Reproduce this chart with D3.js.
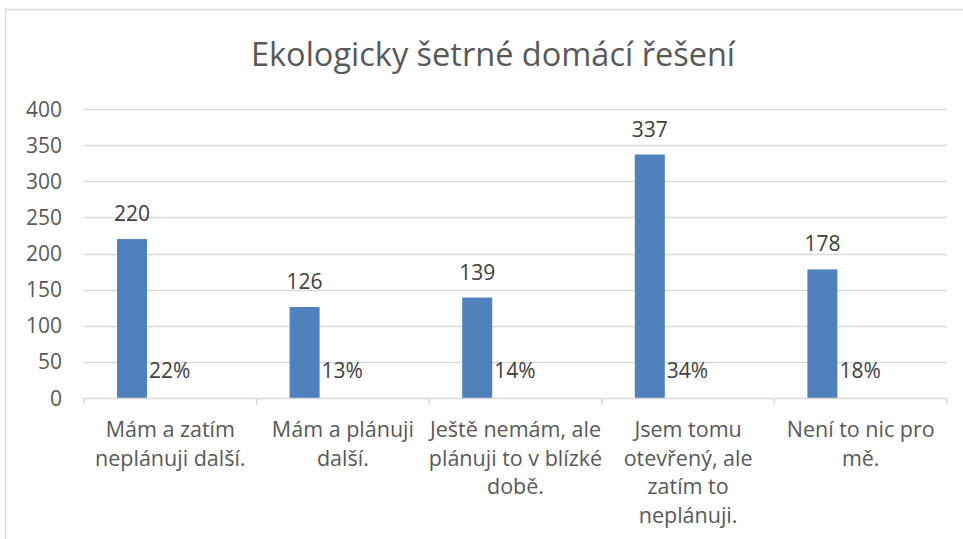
<!DOCTYPE html>
<html>
<head>
<meta charset="utf-8">
<script src="https://cdn.jsdelivr.net/npm/d3@7"></script>
<style>
  body { margin: 0; background: #fff; }
  svg { display: block; font-family: "Open Sans", sans-serif; }
</style>
</head>
<body>
<svg id="chart" width="963" height="539"></svg>
<script>
// data
const categories = [
  ['Mám a zatím', 'neplánuji další.'],
  ['Mám a plánuji', 'další.'],
  ['Ještě nemám, ale', 'plánuji to v blízké', 'době.'],
  ['Jsem tomu', 'otevřený, ale', 'zatím to', 'neplánuji.'],
  ['Není to nic pro', 'mě.']
]
const counts = [220, 126, 139, 337, 178]
const shares = ['22%', '13%', '14%', '34%', '18%']
const yTicks = [0, 50, 100, 150, 200, 250, 300, 350, 400]

const svg = d3.select('#chart')
const grey = '#595959'

// outer chart border (right/bottom fall off the picture)
svg.append('rect')
  .attr('x', 5.5).attr('y', 9.5).attr('width', 1000).attr('height', 600)
  .attr('fill', 'none').attr('stroke', '#d9d9d9').attr('stroke-width', 1.5)

svg.append('text')
  .attr('x', 493).attr('y', 66)
  .attr('text-anchor', 'middle')
  .attr('font-size', 32.5).attr('fill', grey)
  .text('Ekologicky šetrné domácí řešení')

const x = d3.scaleBand().domain(d3.range(categories.length)).range([84, 947])
const y = d3.scaleLinear().domain([0, 400]).range([398, 109])

// gridlines
svg.append('g')
  .selectAll('line').data(yTicks.slice(1)).join('line')
  .attr('x1', 84).attr('x2', 947)
  .attr('y1', d => Math.round(y(d)) + 0.5).attr('y2', d => Math.round(y(d)) + 0.5)
  .attr('stroke', '#d9d9d9').attr('stroke-width', 1.5)

// y tick labels
svg.append('g')
  .selectAll('text').data(yTicks).join('text')
  .attr('x', 62).attr('y', d => y(d) + 7.5)
  .attr('text-anchor', 'end').attr('font-size', 21).attr('fill', grey)
  .text(d => d)

// bars
const barOff = 33, barW = 30
svg.append('g')
  .selectAll('rect').data(counts).join('rect')
  .attr('x', (d, i) => x(i) + barOff).attr('width', barW)
  .attr('y', d => y(d)).attr('height', d => y(0) - y(d))
  .attr('fill', '#4f81bd')

// value labels
svg.append('g')
  .selectAll('text').data(counts).join('text')
  .attr('x', (d, i) => x(i) + barOff + barW / 2)
  .attr('y', d => y(d) - 18)
  .attr('text-anchor', 'middle').attr('font-size', 21).attr('fill', '#404040')
  .text(d => d)

// share labels at the base
svg.append('g')
  .selectAll('text').data(shares).join('text')
  .attr('x', (d, i) => x(i) + barOff + barW + 2)
  .attr('y', 378)
  .attr('font-size', 21).attr('fill', '#404040')
  .text(d => d)

// x axis line + ticks
const axis = svg.append('g').attr('stroke', '#d9d9d9').attr('stroke-width', 1.5)
axis.append('line').attr('x1', 84).attr('x2', 947).attr('y1', 398.5).attr('y2', 398.5)
axis.selectAll('.tk').data(d3.range(categories.length + 1)).join('line')
  .attr('x1', i => i < categories.length ? x(i) : 947)
  .attr('x2', i => i < categories.length ? x(i) : 947)
  .attr('y1', 398).attr('y2', 405)

// category labels
svg.append('g')
  .selectAll('text').data(categories).join('text')
  .attr('x', (d, i) => x(i) + x.bandwidth() / 2)
  .attr('y', 437)
  .attr('text-anchor', 'middle').attr('font-size', 21.5).attr('fill', grey)
  .selectAll('tspan').data(d => d).join('tspan')
  .attr('x', function () { return this.parentNode.getAttribute('x') })
  .attr('dy', (d, j) => j === 0 ? 0 : 28.5)
  .text(d => d)
</script>
</body>
</html>
